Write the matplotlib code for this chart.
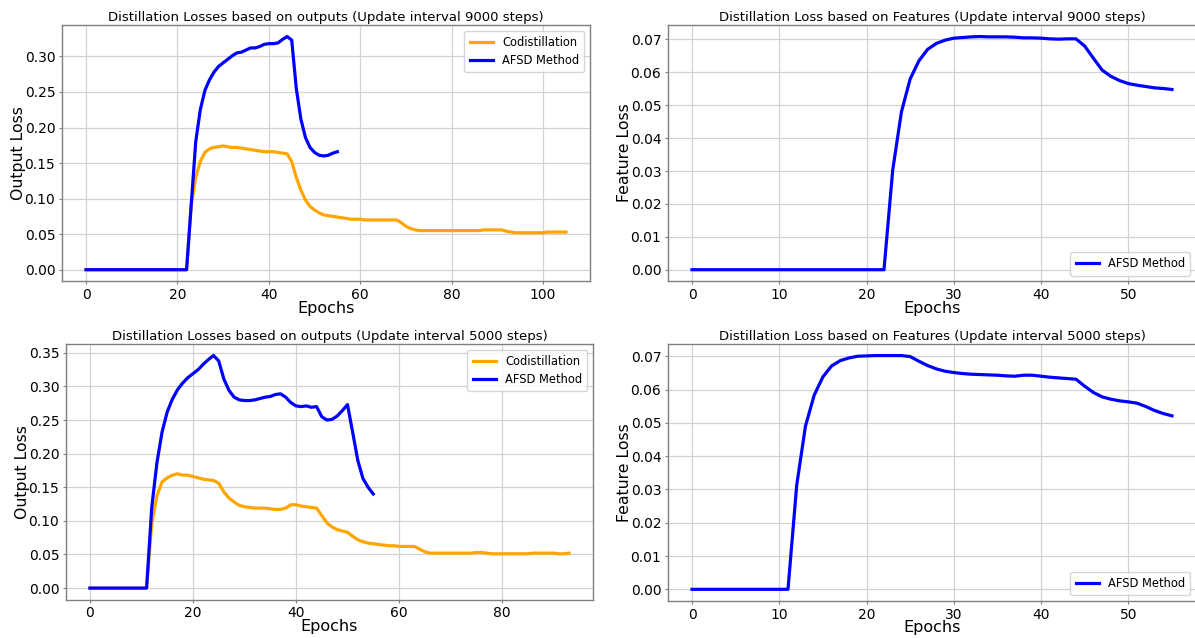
import matplotlib
matplotlib.use("Agg")
import matplotlib.pyplot as plt
import numpy as np

# ---------------- data ----------------
# Output losses, update interval 9000 steps (epochs 0..105 / 0..55)
codist_9000 = [
    0.0, 0.0, 0.0, 0.0, 0.0, 0.0, 0.0, 0.0, 0.0, 0.0, 0.0, 0.0, 0.0, 0.0, 0.0, 0.0,
    0.0, 0.0, 0.0, 0.0, 0.0, 0.0, 0.0,
    0.090, 0.130, 0.152, 0.165, 0.170, 0.172, 0.173, 0.174, 0.173, 0.172, 0.172,
    0.171, 0.170, 0.169, 0.168, 0.167, 0.166, 0.166, 0.166, 0.165, 0.164, 0.163,
    0.152, 0.130, 0.112, 0.098, 0.089, 0.084, 0.080, 0.077, 0.076, 0.075, 0.074,
    0.073, 0.072, 0.071, 0.071, 0.071, 0.070, 0.070, 0.070, 0.070, 0.070, 0.070,
    0.070, 0.070, 0.066, 0.061, 0.058, 0.056, 0.055, 0.055, 0.055, 0.055, 0.055,
    0.055, 0.055, 0.055, 0.055, 0.055, 0.055, 0.055, 0.055, 0.055, 0.056, 0.056,
    0.056, 0.056, 0.056, 0.054, 0.053, 0.052, 0.052, 0.052, 0.052, 0.052, 0.052,
    0.052, 0.053, 0.053, 0.053, 0.053, 0.053,
]
afsd_out_9000 = [
    0.0, 0.0, 0.0, 0.0, 0.0, 0.0, 0.0, 0.0, 0.0, 0.0, 0.0, 0.0, 0.0, 0.0, 0.0, 0.0,
    0.0, 0.0, 0.0, 0.0, 0.0, 0.0, 0.0,
    0.090, 0.180, 0.225, 0.252, 0.267, 0.278, 0.286, 0.291, 0.296, 0.301, 0.305,
    0.306, 0.309, 0.312, 0.312, 0.314, 0.317, 0.318, 0.318, 0.319, 0.324, 0.328,
    0.323, 0.255, 0.212, 0.186, 0.172, 0.165, 0.161, 0.160, 0.161, 0.164, 0.166,
]

# Output losses, update interval 5000 steps (epochs 0..93 / 0..55)
codist_5000 = [
    0.0, 0.0, 0.0, 0.0, 0.0, 0.0, 0.0, 0.0, 0.0, 0.0, 0.0, 0.0,
    0.095, 0.137, 0.158, 0.164, 0.168, 0.170, 0.168, 0.168, 0.166, 0.164, 0.162,
    0.161, 0.160, 0.156, 0.143, 0.134, 0.128, 0.123, 0.121, 0.120, 0.119, 0.119,
    0.119, 0.118, 0.117, 0.117, 0.119, 0.124, 0.124, 0.122, 0.121, 0.120, 0.119,
    0.108, 0.097, 0.091, 0.087, 0.085, 0.083, 0.077, 0.072, 0.069, 0.067, 0.066,
    0.065, 0.064, 0.063, 0.063, 0.062, 0.062, 0.062, 0.062, 0.058, 0.054, 0.052,
    0.052, 0.052, 0.052, 0.052, 0.052, 0.052, 0.052, 0.052, 0.053, 0.053, 0.052,
    0.051, 0.051, 0.051, 0.051, 0.051, 0.051, 0.051, 0.051, 0.052, 0.052, 0.052,
    0.052, 0.052, 0.051, 0.051, 0.052,
]
afsd_out_5000 = [
    0.0, 0.0, 0.0, 0.0, 0.0, 0.0, 0.0, 0.0, 0.0, 0.0, 0.0, 0.0,
    0.120, 0.186, 0.232, 0.262, 0.281, 0.295, 0.305, 0.313, 0.319, 0.325, 0.333,
    0.340, 0.346, 0.338, 0.311, 0.294, 0.284, 0.280, 0.279, 0.279, 0.280, 0.282,
    0.284, 0.285, 0.288, 0.289, 0.284, 0.276, 0.271, 0.270, 0.271, 0.269, 0.270,
    0.255, 0.250, 0.251, 0.256, 0.264, 0.273, 0.232, 0.190, 0.163, 0.150, 0.140,
]

# Feature losses (epochs 0..55)
afsd_feat_9000 = [
    0.0, 0.0, 0.0, 0.0, 0.0, 0.0, 0.0, 0.0, 0.0, 0.0, 0.0, 0.0, 0.0, 0.0, 0.0, 0.0,
    0.0, 0.0, 0.0, 0.0, 0.0, 0.0, 0.0,
    0.0303, 0.0480, 0.0580, 0.0635, 0.0670, 0.0688, 0.0698, 0.0704, 0.0706, 0.0708,
    0.0709, 0.0708, 0.0708, 0.0708, 0.0707, 0.0705, 0.0705, 0.0704, 0.0702, 0.0701,
    0.0702, 0.0702, 0.0680, 0.0643, 0.0607, 0.0588, 0.0575, 0.0566, 0.0561, 0.0557,
    0.0553, 0.0551, 0.0548,
]
afsd_feat_5000 = [
    0.0, 0.0, 0.0, 0.0, 0.0, 0.0, 0.0, 0.0, 0.0, 0.0, 0.0, 0.0,
    0.0313, 0.0490, 0.0583, 0.0638, 0.0671, 0.0687, 0.0695, 0.0700, 0.0701, 0.0702,
    0.0702, 0.0702, 0.0702, 0.0699, 0.0685, 0.0672, 0.0662, 0.0655, 0.0651, 0.0648,
    0.0646, 0.0645, 0.0644, 0.0643, 0.0641, 0.0640, 0.0643, 0.0643, 0.0640, 0.0637,
    0.0635, 0.0633, 0.0631, 0.0610, 0.0591, 0.0578, 0.0571, 0.0566, 0.0563, 0.0559,
    0.0549, 0.0537, 0.0528, 0.0521,
]

titles = [
    "Distillation Losses based on outputs (Update interval 9000 steps)",
    "Distillation Loss based on Features (Update interval 9000 steps)",
    "Distillation Losses based on outputs (Update interval 5000 steps)",
    "Distillation Loss based on Features (Update interval 5000 steps)",
]
xlabel = "Epochs"
ylabels = ["Output Loss", "Feature Loss"]
series_names = ["Codistillation", "AFSD Method"]

ORANGE = "#FFA500"
BLUE = "#0000FF"

# ---------------- figure ----------------
fig = plt.figure(figsize=(11.95, 6.38), dpi=100)
positions = [
    [0.0519, 0.559, 0.4418, 0.402],
    [0.559, 0.559, 0.4418, 0.402],
    [0.0552, 0.060, 0.441, 0.401],
    [0.559, 0.058, 0.4418, 0.403],
]
axes = [fig.add_axes(p) for p in positions]


def style(ax, ylab, title):
    ax.set_title(title, fontsize=9.5, pad=3)
    ax.set_ylabel(ylab, fontsize=11.3)
    ax.set_xlabel(xlabel, fontsize=11.5)
    ax.yaxis.set_label_coords(-0.068, 0.5)
    ax.xaxis.set_label_coords(0.5, -0.075)
    ax.grid(True, color="#d3d3d3", linewidth=0.9)
    ax.set_axisbelow(True)
    for s in ax.spines.values():
        s.set_color("#7f7f7f")
        s.set_linewidth(1.0)
    ax.tick_params(axis="both", labelsize=10, color="#7f7f7f", length=2.2, pad=2.6)


lw = 2.3
leg_kw = dict(fontsize=8.3, borderpad=0.45, labelspacing=0.45)

# top-left
ax = axes[0]
ax.plot(np.arange(len(codist_9000)), codist_9000, color=ORANGE, lw=lw, label=series_names[0])
ax.plot(np.arange(len(afsd_out_9000)), afsd_out_9000, color=BLUE, lw=lw, label=series_names[1])
ax.legend(loc="upper right", **leg_kw)
style(ax, ylabels[0], titles[0])

# top-right
ax = axes[1]
ax.plot(np.arange(len(afsd_feat_9000)), afsd_feat_9000, color=BLUE, lw=lw, label=series_names[1])
ax.legend(loc="lower right", **leg_kw)
style(ax, ylabels[1], titles[1])

# bottom-left
ax = axes[2]
ax.plot(np.arange(len(codist_5000)), codist_5000, color=ORANGE, lw=lw, label=series_names[0])
ax.plot(np.arange(len(afsd_out_5000)), afsd_out_5000, color=BLUE, lw=lw, label=series_names[1])
ax.legend(loc="upper right", **leg_kw)
style(ax, ylabels[0], titles[2])

# bottom-right
ax = axes[3]
ax.plot(np.arange(len(afsd_feat_5000)), afsd_feat_5000, color=BLUE, lw=lw, label=series_names[1])
ax.legend(loc="lower right", **leg_kw)
style(ax, ylabels[1], titles[3])

fig.savefig("out.png", dpi=100, facecolor="white")
